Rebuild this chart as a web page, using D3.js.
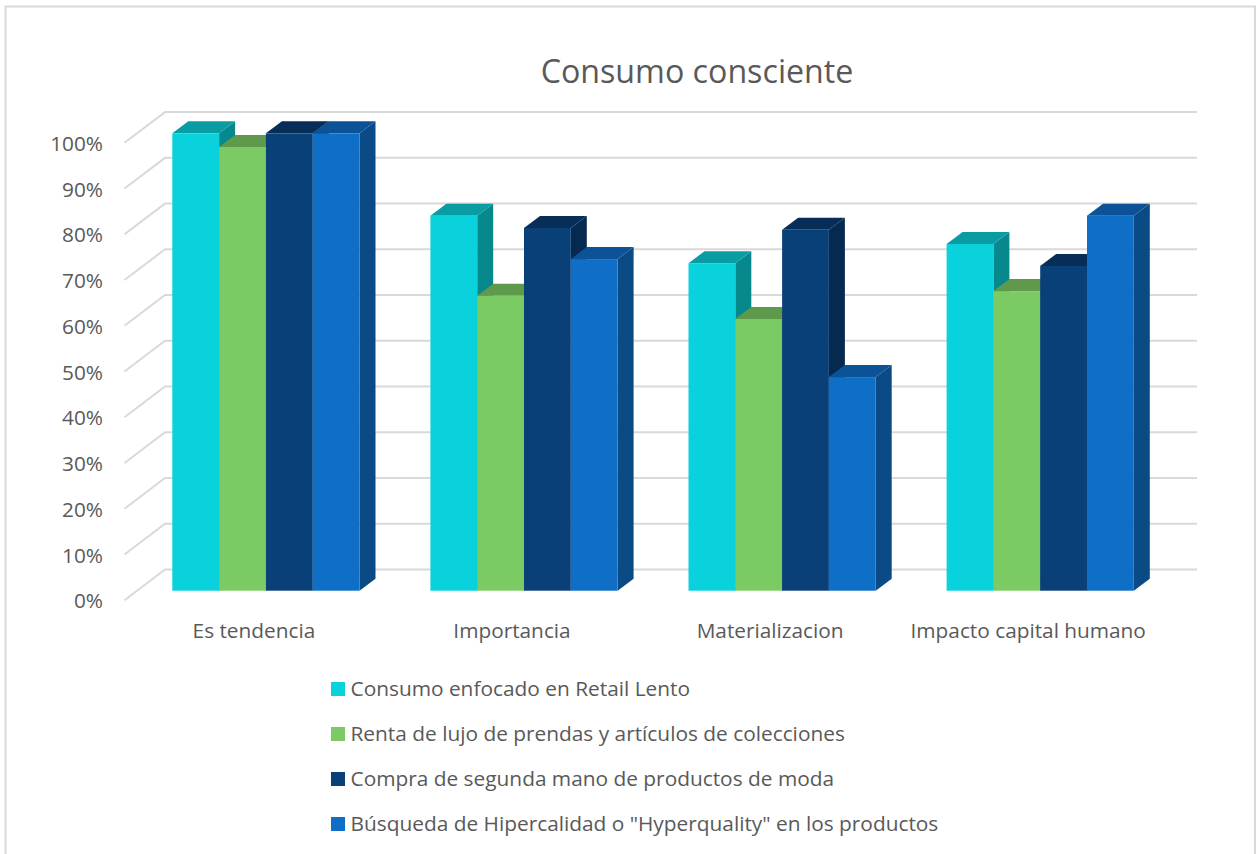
<!DOCTYPE html>
<html><head><meta charset="utf-8">
<script src="https://cdn.jsdelivr.net/npm/d3@7"></script>
<style>html,body{margin:0;padding:0;background:#fff;overflow:hidden}svg{display:block}text{font-family:"Open Sans",sans-serif;fill:#595959}</style>
</head><body><svg id="c" width="1256" height="854"></svg>
<script>
const title = "Consumo consciente";
const categories = ["Es tendencia","Importancia","Materializacion","Impacto capital humano"];
const seriesNames = ["Consumo enfocado en Retail Lento","Renta de lujo de prendas y artículos de colecciones","Compra de segunda mano de productos de moda","Búsqueda de Hipercalidad o \"Hyperquality\" en los productos"];
const retailLento = [100,82,71.6,75.8];
const rentaLujo = [97,64.5,59.4,65.5];
const segundaMano = [100,79.3,78.9,71];
const hipercalidad = [100,72.5,46.7,82];
const seriesValues = [retailLento,rentaLujo,segundaMano,hipercalidad];
const frontColors = ["#0AD2DC","#7BCA64","#0A4078","#0F6FC6"];
const topColors = ["#0A9CA3","#5F9A4C","#062E58","#0B5396"];
const sideColors = ["#07888C","#4E8540","#05294F","#0A4A85"];
const yTicks = [0,10,20,30,40,50,60,70,80,90,100];

const svg = d3.select("#c");
const y = d3.scaleLinear().domain([0,100]).range([590.7,133.3]);
const x0 = d3.scaleBand().domain(categories).range([136.85,1169.25]).paddingInner(70.9/258.1).paddingOuter(35.45/258.1);
const x1 = d3.scaleBand().domain(d3.range(4)).range([0,x0.bandwidth()]);
const depthX=16, depthY=12, wallX=165, wallY=21.2, leftX=124.5, leftY=9.5, wallRight=1197;

// frame
svg.append("path").attr("d","M5.5,854V6.5H1255V854").attr("fill","none").attr("stroke","#d9d9d9").attr("stroke-width",2);

// gridlines: floor/side diagonal plus back wall
svg.append("g").selectAll("path").data(yTicks).join("path")
  .attr("d",t=>`M${leftX},${y(t)+leftY}L${wallX},${y(t)-wallY}H${wallRight}`)
  .attr("fill","none").attr("stroke","#d9d9d9").attr("stroke-width",2);

// bars
const groups = svg.append("g").selectAll("g").data(categories).join("g")
  .attr("transform",c=>`translate(${x0(c)},0)`);
groups.each(function(c,ci){
  const g=d3.select(this);
  seriesValues.forEach((vals,si)=>{
    const v=vals[ci], L=x1(si), R=L+x1.bandwidth(), T=y(v), B=y(0);
    g.append("path").attr("fill",sideColors[si])
      .attr("d",`M${R},${T}L${R+depthX},${T-depthY}V${B-depthY}L${R},${B}Z`);
    g.append("path").attr("fill",topColors[si])
      .attr("d",`M${L},${T}L${L+depthX},${T-depthY}H${R+depthX}L${R},${T}Z`);
    g.append("rect").attr("fill",frontColors[si]).attr("x",L).attr("y",T).attr("width",R-L).attr("height",B-T);
  });
});

// y axis labels
const yAxis = svg.append("g").attr("transform","translate(103,10.5)")
  .call(d3.axisLeft(y).tickValues(yTicks).tickFormat(d=>d+"%").tickSize(0).tickPadding(0));
yAxis.select(".domain").remove();
yAxis.selectAll("text").style("font-family",'"Open Sans",sans-serif').style("font-size","20.8px").style("fill","#595959");

// category labels
const xAxis = svg.append("g").attr("transform","translate(-12,623)")
  .call(d3.axisBottom(x0).tickSize(0).tickPadding(0));
xAxis.select(".domain").remove();
xAxis.selectAll("text").style("font-family",'"Open Sans",sans-serif').style("font-size","20.8px").style("fill","#595959");

// title
svg.append("text").attr("x",697).attr("y",83).attr("text-anchor","middle").style("font-size","32.2px").text(title);

// legend
const leg = d3.scalePoint().domain(d3.range(4)).range([689,824]);
const lg = svg.append("g").selectAll("g").data(seriesNames).join("g").attr("transform",(d,i)=>`translate(331,${leg(i)})`);
lg.append("rect").attr("y",-7).attr("width",14).attr("height",14).attr("fill",(d,i)=>frontColors[i]);
lg.append("text").attr("x",19.5).attr("y",7).style("font-size","20.85px").text(d=>d);
</script></body></html>
